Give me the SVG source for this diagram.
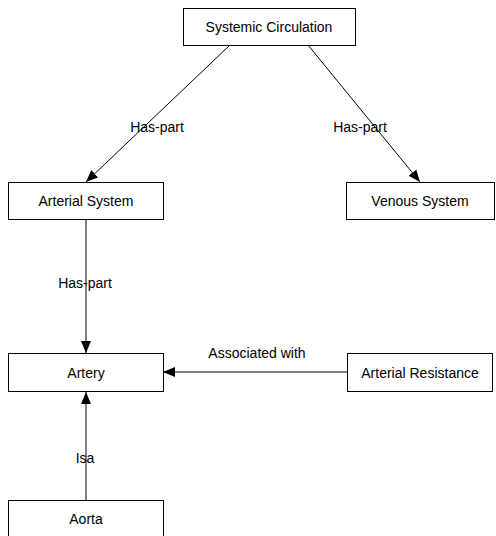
<svg xmlns="http://www.w3.org/2000/svg" width="496" height="536" viewBox="0 0 496 536">
<style>
.box{fill:#fff;stroke:#000;stroke-width:1}
.t{font-family:"Liberation Sans Narrow","Liberation Sans",Arial,sans-serif;font-size:14px;fill:#000;text-anchor:middle}
.e{stroke:#000;stroke-width:1;fill:none}
</style>
<defs>
<marker id="ah" viewBox="0 0 12 10" refX="12" refY="5" markerWidth="12" markerHeight="10" markerUnits="userSpaceOnUse" orient="auto">
<path d="M0,0 L12,5 L0,10 Z" fill="#000"/>
</marker>
</defs>
<rect width="496" height="536" fill="#fff"/>
<g id="connectors">
<line class="e" x1="230" y1="45" x2="86" y2="182" marker-end="url(#ah)"/>
<line class="e" x1="308" y1="45" x2="420" y2="182" marker-end="url(#ah)"/>
<line class="e" x1="86" y1="219" x2="86" y2="353" marker-end="url(#ah)"/>
<line class="e" x1="347" y1="372" x2="163" y2="372" marker-end="url(#ah)"/>
<line class="e" x1="86" y1="500" x2="86" y2="392" marker-end="url(#ah)"/>
<text class="t" x="157" y="132">Has-part</text>
<text class="t" x="360" y="132">Has-part</text>
<text class="t" x="85" y="288">Has-part</text>
<text class="t" x="257" y="358">Associated with</text>
<text class="t" x="85" y="463">Isa</text>
</g>
<g id="systemic-circulation">
<rect class="box" x="183.5" y="8.5" width="172" height="37"/>
<text class="t" x="269" y="32">Systemic Circulation</text>
</g>
<g id="arterial-system">
<rect class="box" x="8.5" y="182.5" width="155" height="37"/>
<text class="t" x="86" y="206">Arterial System</text>
</g>
<g id="venous-system">
<rect class="box" x="346.5" y="182.5" width="148" height="37"/>
<text class="t" x="420" y="206">Venous System</text>
</g>
<g id="artery">
<rect class="box" x="8.5" y="353.5" width="155" height="38"/>
<text class="t" x="86" y="378">Artery</text>
</g>
<g id="arterial-resistance">
<rect class="box" x="347.5" y="353.5" width="145" height="38"/>
<text class="t" x="420" y="378">Arterial Resistance</text>
</g>
<g id="aorta">
<rect class="box" x="8.5" y="500.5" width="155" height="40"/>
<text class="t" x="86" y="524">Aorta</text>
</g>
</svg>
